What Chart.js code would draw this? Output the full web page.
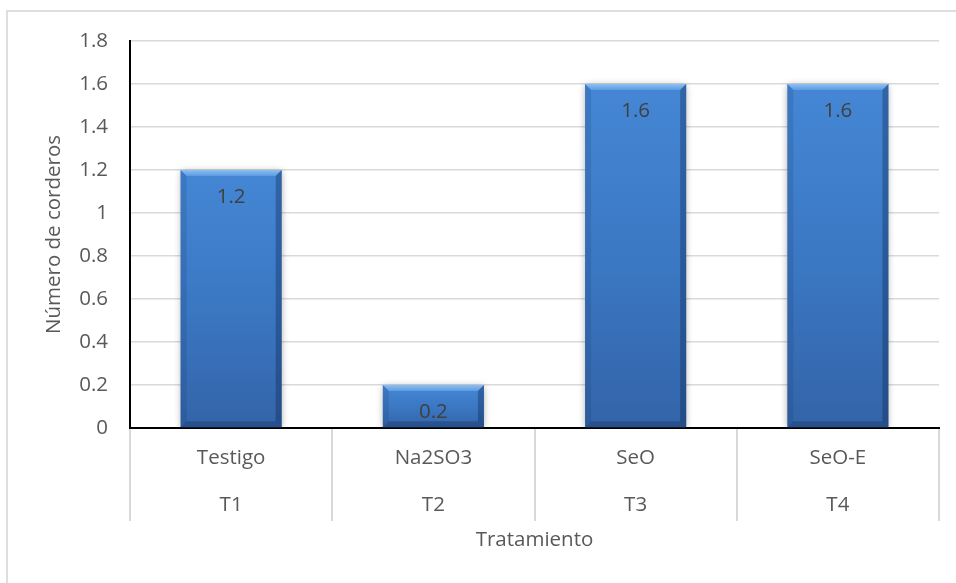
<!DOCTYPE html>
<html><head><meta charset="utf-8">
<script src="https://cdn.jsdelivr.net/npm/chart.js@4"></script>
<style>
html,body{margin:0;padding:0;background:#fff;overflow:hidden;width:956px;height:583px}
#frame{position:absolute;left:6px;top:10px;width:990px;height:620px;border:2px solid #dedede;box-sizing:border-box}
#wrap{position:absolute;left:0;top:0;width:956px;height:583px}
</style></head>
<body>
<div id="frame"></div>
<div id="wrap"><canvas id="c" width="956" height="583"></canvas></div>
<script>
const categories = ['Testigo', 'Na2SO3', 'SeO', 'SeO-E'];
const treatmentCodes = ['T1', 'T2', 'T3', 'T4'];
const values = [1.2, 0.2, 1.6, 1.6];
const yAxisTitle = 'Número de corderos';
const xAxisTitle = 'Tratamiento';

const FONT = '"Open Sans"';
const FS = 20.5;
const TXT = '#595959';

function barGradient(context) {
  const chart = context.chart;
  const ys = chart.scales.y;
  if (!ys || context.raw === undefined) return '#3B78C6';
  const top = ys.getPixelForValue(context.raw);
  const base = ys.getPixelForValue(0);
  if (!isFinite(top) || !isFinite(base) || top === base) return '#3B78C6';
  const g = chart.ctx.createLinearGradient(0, top, 0, base);
  g.addColorStop(0, '#4587D5');
  g.addColorStop(0.5, '#3B78C4');
  g.addColorStop(1, '#3364A8');
  return g;
}

const bevelPlugin = {
  id: 'bevel',
  beforeDatasetsDraw(chart) {
    const ctx = chart.ctx;
    ctx.save();
    ctx.shadowColor = 'rgba(0,0,0,0.35)';
    ctx.shadowBlur = 7;
    ctx.shadowOffsetX = 0;
    ctx.shadowOffsetY = 1;
  },
  afterDatasetsDraw(chart) {
    const ctx = chart.ctx;
    ctx.restore();
    const meta = chart.getDatasetMeta(0);
    meta.data.forEach((bar, i) => {
      const p = bar.getProps(['x', 'y', 'base', 'width'], true);
      const l = p.x - p.width / 2, r = p.x + p.width / 2, t = p.y, b = p.base;
      const bv = 6;
      ctx.save();
      const gt = ctx.createLinearGradient(0, t, 0, t + bv);
      gt.addColorStop(0, '#8CC0F2');
      gt.addColorStop(1, '#5C9BE3');
      ctx.fillStyle = gt;
      ctx.beginPath();
      ctx.moveTo(l, t); ctx.lineTo(r, t); ctx.lineTo(r - bv, t + bv); ctx.lineTo(l + bv, t + bv); ctx.closePath(); ctx.fill();
      ctx.fillStyle = 'rgba(20,50,100,0.16)';
      ctx.beginPath();
      ctx.moveTo(l, t); ctx.lineTo(l + bv, t + bv); ctx.lineTo(l + bv, b - bv); ctx.lineTo(l, b); ctx.closePath(); ctx.fill();
      ctx.fillStyle = 'rgba(10,30,70,0.33)';
      ctx.beginPath();
      ctx.moveTo(r, t); ctx.lineTo(r - bv, t + bv); ctx.lineTo(r - bv, b - bv); ctx.lineTo(r, b); ctx.closePath(); ctx.fill();
      ctx.fillStyle = 'rgba(10,30,70,0.28)';
      ctx.beginPath();
      ctx.moveTo(l, b); ctx.lineTo(l + bv, b - bv); ctx.lineTo(r - bv, b - bv); ctx.lineTo(r, b); ctx.closePath(); ctx.fill();
      ctx.fillStyle = '#404040';
      ctx.font = FS + 'px ' + FONT;
      ctx.textAlign = 'center';
      ctx.textBaseline = 'middle';
      ctx.fillText(String(chart.data.datasets[0].data[i]), p.x, t + 27.5);
      ctx.restore();
    });
  }
};

new Chart(document.getElementById('c'), {
  type: 'bar',
  data: {
    labels: categories.map((c, i) => [c, treatmentCodes[i]]),
    datasets: [{
      data: values,
      backgroundColor: barGradient,
      borderWidth: 0,
      categoryPercentage: 1,
      barPercentage: 0.5
    }]
  },
  options: {
    responsive: false,
    animation: false,
    events: [],
    layout: { padding: { left: 0, top: 41, right: 17, bottom: 0 } },
    plugins: { legend: { display: false }, tooltip: { enabled: false } },
    scales: {
      x: {
        offset: true,
        grid: {
          offset: true, drawOnChartArea: false, drawTicks: true,
          tickLength: 93, color: '#d9d9d9', lineWidth: 2
        },
        border: { display: true, color: '#000', width: 2 },
        ticks: {
          padding: -86.3, color: TXT, autoSkip: false, maxRotation: 0,
          font: { family: FONT, size: FS, lineHeight: 46.7 / FS }
        },
        title: {
          display: true, text: xAxisTitle, color: TXT,
          font: { family: FONT, size: FS, lineHeight: 1.2 },
          padding: { top: 0, bottom: 30.7 }
        },
        afterFit(s) { s.height = 155; }
      },
      y: {
        min: 0, max: 1.8,
        grid: {
          drawTicks: false, lineWidth: 1.5,
          color: (c) => (c.tick && c.tick.value === 0 ? 'rgba(0,0,0,0)' : '#d9d9d9')
        },
        border: { display: true, color: '#000', width: 2 },
        ticks: {
          stepSize: 0.2, padding: 22, color: TXT,
          font: { family: FONT, size: FS },
          callback: (v) => String(+Number(v).toFixed(1))
        },
        title: {
          display: true, text: yAxisTitle, color: TXT,
          font: { family: FONT, size: FS, lineHeight: 1.2 },
          padding: { top: 41.7, bottom: 0 }
        },
        afterFit(s) { s.width = 130; }
      }
    }
  },
  plugins: [bevelPlugin]
});
</script>
</body></html>
